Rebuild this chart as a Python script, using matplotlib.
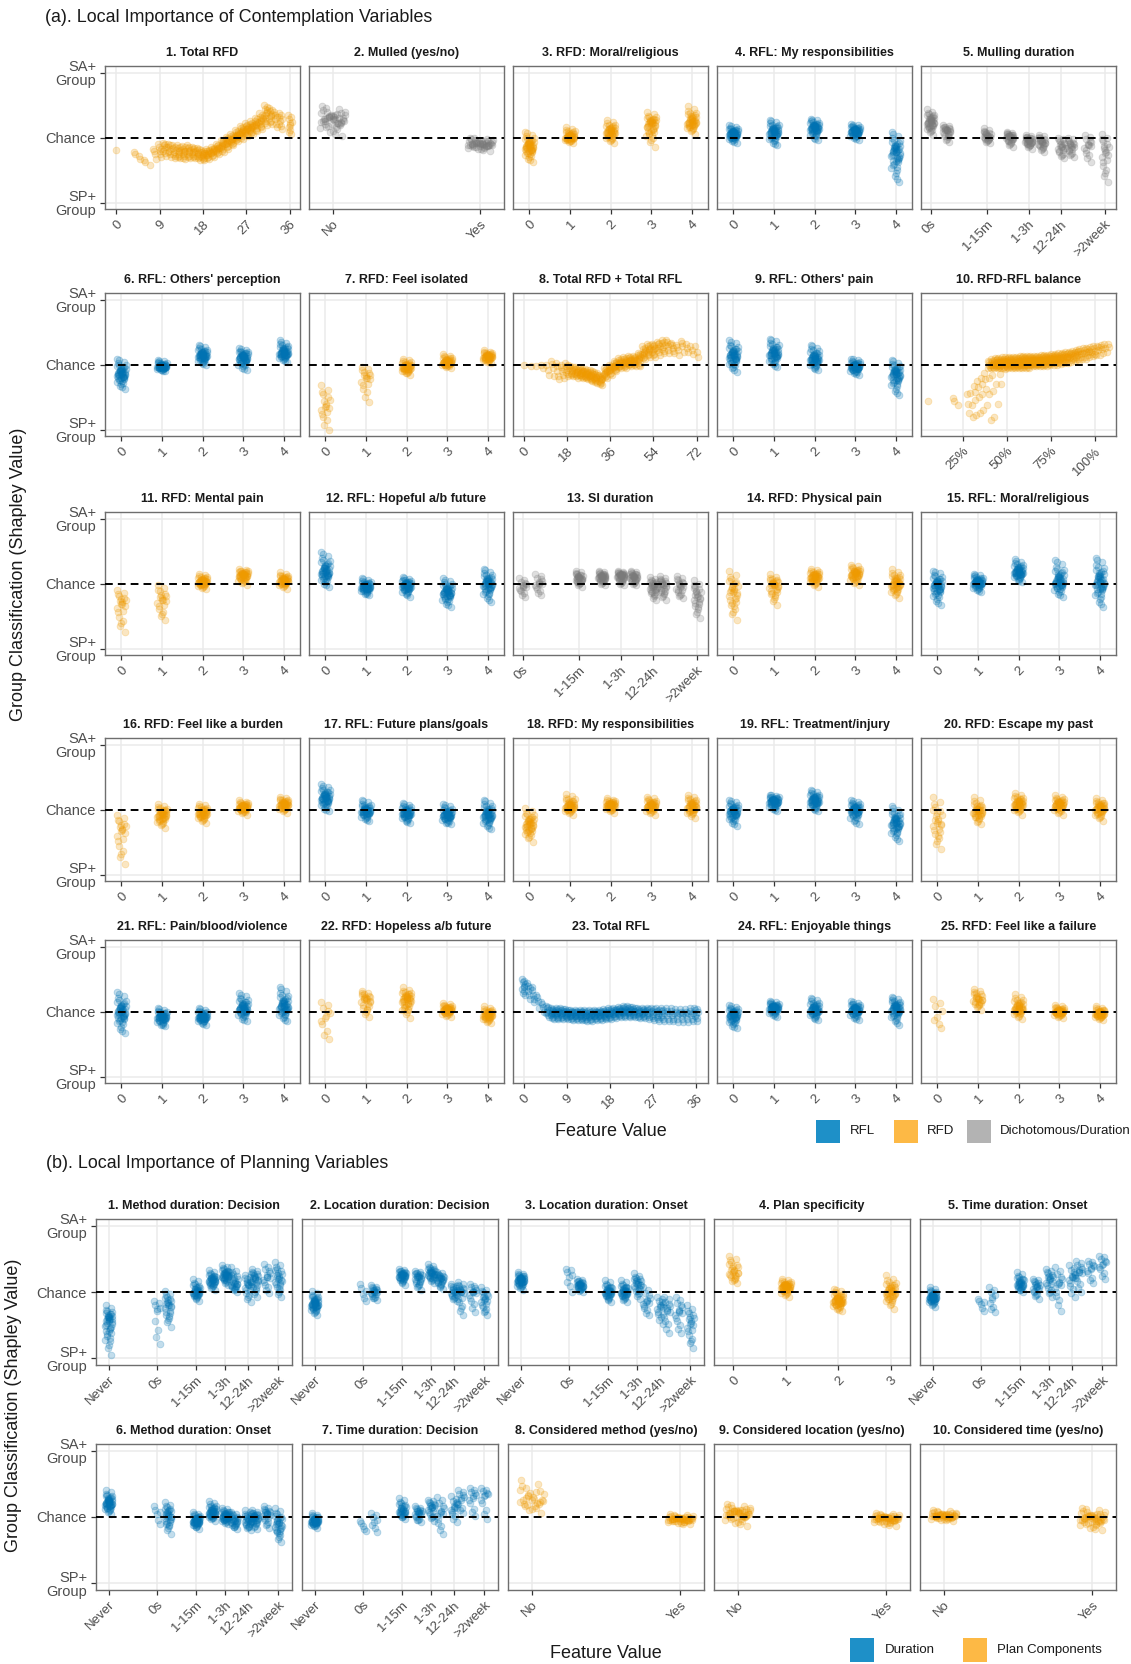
import matplotlib
matplotlib.use("Agg")
import matplotlib.pyplot as plt
from matplotlib.patches import Rectangle

plt.rcParams['font.family'] = ['Liberation Sans', 'DejaVu Sans']

# ------------------------------------------------------------------ data
# shared x encodings / tick labels
CAT5 = [0, 1, 2, 3, 4]
CAT5_LAB = ['0', '1', '2', '3', '4']
CAT4 = [0, 1, 2, 3]
CAT4_LAB = ['0', '1', '2', '3']
YN = [1, 2]
YN_LAB = ['No', 'Yes']
DUR_POS = [0, 2.84, 3.5, 5.16, 6.1, 6.88, 7.4, 8.21, 8.6, 9.3, 10.0]
DUR_LAB = ['Never', '0s', '1-15m', '1-3h', '12-24h', '>2week']
DUR_TICK_IDX = [0, 1, 3, 5, 7, 10]
TOT36_TICKS = [0, 9, 18, 27, 36]
TOT72_TICKS = [0, 18, 36, 54, 72]
PCT_TICKS = [25, 50, 75, 100]
PCT_LAB = ['25%', '50%', '75%', '100%']
Y_TICKS = [1, 0, -1]
Y_LAB = ['SA+\nGroup', 'Chance', 'SP+\nGroup']

A_TITLES = ["1. Total RFD", "2. Mulled (yes/no)", "3. RFD: Moral/religious",
            "4. RFL: My responsibilities", "5. Mulling duration",
            "6. RFL: Others' perception", "7. RFD: Feel isolated",
            "8. Total RFD + Total RFL", "9. RFL: Others' pain", "10. RFD-RFL balance",
            "11. RFD: Mental pain", "12. RFL: Hopeful a/b future", "13. SI duration",
            "14. RFD: Physical pain", "15. RFL: Moral/religious",
            "16. RFD: Feel like a burden", "17. RFL: Future plans/goals",
            "18. RFD: My responsibilities", "19. RFL: Treatment/injury",
            "20. RFD: Escape my past", "21. RFL: Pain/blood/violence",
            "22. RFD: Hopeless a/b future", "23. Total RFL",
            "24. RFL: Enjoyable things", "25. RFD: Feel like a failure"]
A_GROUPS = ['RFD', 'DD', 'RFD', 'RFL', 'DD', 'RFL', 'RFD', 'RFD', 'RFL', 'RFD',
            'RFD', 'RFL', 'DD', 'RFD', 'RFL', 'RFD', 'RFL', 'RFD', 'RFL', 'RFD',
            'RFL', 'RFD', 'RFL', 'RFL', 'RFD']
B_TITLES = ["1. Method duration: Decision", "2. Location duration: Decision",
            "3. Location duration: Onset", "4. Plan specificity",
            "5. Time duration: Onset", "6. Method duration: Onset",
            "7. Time duration: Decision", "8. Considered method (yes/no)",
            "9. Considered location (yes/no)", "10. Considered time (yes/no)"]
B_GROUPS = ['DUR', 'DUR', 'DUR', 'PLAN', 'DUR', 'DUR', 'DUR', 'PLAN', 'PLAN', 'PLAN']

# --- continuous panels: x, centre, half spread, number of points
A01_X = [0, 4, 5, 6, 7, 8, 9, 10, 11, 12, 13, 14, 15, 16, 17, 18, 19, 20, 21, 22,
         23, 24, 25, 26, 27, 28, 29, 30, 31, 32, 33, 34, 36]
A01_MID = [-0.19, -0.26, -0.33, -0.38, -0.43, -0.25, -0.20, -0.18, -0.20, -0.22,
           -0.22, -0.23, -0.22, -0.23, -0.25, -0.27, -0.25, -0.22, -0.18, -0.13,
           -0.08, -0.03, 0.03, 0.08, 0.12, 0.15, 0.20, 0.25, 0.35, 0.33, 0.28, 0.25, 0.20]
A01_SPR = [0.01, 0.04, 0.04, 0.04, 0.02, 0.08, 0.10, 0.10, 0.10, 0.10, 0.10, 0.10,
           0.10, 0.09, 0.09, 0.08, 0.08, 0.08, 0.08, 0.09, 0.09, 0.09, 0.09, 0.10,
           0.10, 0.10, 0.10, 0.12, 0.15, 0.12, 0.12, 0.12, 0.15]
A01_N = [1, 2, 2, 2, 1, 4, 6, 8, 8, 8, 10, 10, 10, 10, 10, 12, 12, 12, 12, 12,
         12, 14, 14, 14, 14, 14, 12, 12, 12, 10, 6, 8, 10]

A08_X = [0, 3, 5, 8, 10, 12, 14, 16, 18, 20, 22, 24, 26, 28, 30, 32, 34, 36, 38, 40,
         42, 44, 46, 48, 50, 52, 54, 56, 58, 60, 62, 64, 66, 68, 70, 72]
A08_MID = [0.00, -0.02, -0.03, -0.05, -0.08, -0.06, -0.10, -0.10, -0.08, -0.10,
           -0.12, -0.13, -0.15, -0.17, -0.20, -0.24, -0.13, -0.08, -0.02, 0.02,
           0.03, 0.05, 0.05, 0.08, 0.18, 0.22, 0.22, 0.25, 0.27, 0.28,
           0.25, 0.22, 0.28, 0.25, 0.22, 0.20]
A08_SPR = [0.01, 0.02, 0.02, 0.05, 0.08, 0.12, 0.12, 0.10, 0.10, 0.08,
           0.08, 0.08, 0.08, 0.08, 0.08, 0.08, 0.08, 0.08, 0.08, 0.08,
           0.08, 0.08, 0.08, 0.10, 0.10, 0.10, 0.10, 0.10, 0.10, 0.10,
           0.08, 0.08, 0.08, 0.06, 0.06, 0.08]
A08_N = [1, 1, 1, 2, 3, 4, 5, 6, 8, 10, 12, 14, 14, 14, 14, 12, 12, 12, 14, 14,
         14, 14, 12, 12, 12, 10, 10, 8, 8, 6, 5, 4, 4, 3, 3, 3]

A10_X = [5, 20, 22, 28, 30, 32, 34, 36, 38, 40, 42, 44, 46, 40, 42, 44, 46, 48, 50, 52,
         54, 56, 58, 60, 62, 64, 66, 68, 70, 72, 74, 76, 78, 80, 82, 84, 86, 88, 90, 92,
         94, 96, 98, 100, 102, 104, 106, 108]
A10_MID = [-0.56, -0.56, -0.62, -0.60, -0.62, -0.55, -0.50, -0.45, -0.38, -0.45,
           -0.40, -0.30, -0.15, 0.00, 0.01, 0.02, 0.02, 0.02, 0.03, 0.03,
           0.03, 0.03, 0.04, 0.04, 0.04, 0.05, 0.05, 0.05, 0.06, 0.06,
           0.07, 0.08, 0.08, 0.09, 0.10, 0.11, 0.12, 0.13, 0.14, 0.16,
           0.17, 0.19, 0.20, 0.21, 0.22, 0.24, 0.25, 0.27]
A10_SPR = [0.02, 0.05, 0.02, 0.15, 0.18, 0.22, 0.25, 0.25, 0.25, 0.40,
           0.40, 0.30, 0.15, 0.06, 0.07, 0.08, 0.08, 0.09, 0.09, 0.09,
           0.09, 0.09, 0.09, 0.09, 0.09, 0.08, 0.08, 0.08, 0.08, 0.08,
           0.08, 0.08, 0.08, 0.08, 0.08, 0.08, 0.08, 0.08, 0.08, 0.08,
           0.08, 0.07, 0.07, 0.07, 0.07, 0.06, 0.06, 0.05]
A10_N = [1, 2, 1, 3, 3, 4, 4, 4, 4, 4,
         4, 3, 3, 6, 8, 10, 12, 12, 14, 14,
         14, 14, 14, 14, 14, 14, 14, 14, 14, 12,
         12, 12, 12, 10, 10, 10, 8, 8, 8, 6,
         6, 6, 5, 5, 4, 4, 3, 2]

A23_X = [0, 1, 2, 3, 4, 5, 6, 7, 8, 9, 10, 11, 12, 13, 14, 15, 16, 17, 18, 19,
         20, 21, 22, 23, 24, 25, 26, 27, 28, 29, 30, 31, 32, 33, 34, 35, 36]
A23_MID = [0.38, 0.32, 0.26, 0.16, 0.07, 0.00, -0.03, -0.03, -0.03, -0.04,
           -0.05, -0.05, -0.05, -0.06, -0.06, -0.05, -0.05, -0.04, -0.03, -0.02,
           -0.01, 0.00, 0.00, -0.01, -0.02, -0.02, -0.03, -0.04, -0.05, -0.05,
           -0.05, -0.05, -0.06, -0.06, -0.06, -0.05, -0.04]
A23_SPR = [0.12, 0.12, 0.12, 0.10, 0.08, 0.08, 0.08, 0.08, 0.08, 0.08,
           0.08, 0.08, 0.08, 0.08, 0.08, 0.08, 0.08, 0.08, 0.08, 0.08,
           0.08, 0.08, 0.08, 0.08, 0.08, 0.08, 0.09, 0.09, 0.10, 0.10,
           0.10, 0.10, 0.10, 0.10, 0.10, 0.10, 0.10]
A23_N = [10, 6, 5, 4, 4, 8, 12, 12, 12, 12,
         12, 12, 12, 12, 12, 12, 12, 12, 12, 12,
         12, 12, 12, 10, 10, 10, 8, 8, 8, 8,
         6, 6, 6, 6, 6, 6, 8]

# --- categorical panels: centre, lowest, highest, number of points per category
A02_MID = [0.28, -0.10]; A02_LO = [0.03, -0.20]; A02_HI = [0.48, 0.00]; A02_N = [48, 48]
A03_MID = [-0.14, 0.01, 0.09, 0.21, 0.24]; A03_LO = [-0.37, -0.09, -0.09, -0.14, 0.06]
A03_HI = [0.09, 0.16, 0.27, 0.39, 0.48]; A03_N = [48, 40, 40, 40, 40]
A04_MID = [0.06, 0.09, 0.15, 0.10, -0.22]; A04_LO = [-0.09, -0.12, -0.04, -0.04, -0.68]
A04_HI = [0.19, 0.27, 0.29, 0.21, 0.09]; A04_N = [48, 48, 48, 48, 48]
A05_MID = [0.24, 0.11, 0.02, 0.01, -0.05, -0.07, -0.15, -0.14, -0.12, -0.24]
A05_LO = [0.04, -0.07, -0.09, -0.14, -0.17, -0.22, -0.32, -0.30, -0.37, -0.68]
A05_HI = [0.44, 0.19, 0.14, 0.09, 0.04, 0.04, 0.00, 0.00, 0.04, 0.06]
A05_N = [40, 25, 25, 30, 30, 25, 20, 20, 15, 20]
A06_MID = [-0.14, -0.03, 0.14, 0.11, 0.18]; A06_LO = [-0.37, -0.10, -0.01, -0.09, 0.04]
A06_HI = [0.09, 0.07, 0.30, 0.26, 0.37]; A06_N = [48, 48, 48, 48, 48]
A07_MID = [-0.65, -0.21, -0.04, 0.04, 0.12]; A07_LO = [-1.00, -0.57, -0.16, -0.06, 0.02]
A07_HI = [-0.32, -0.04, 0.09, 0.16, 0.22]; A07_N = [18, 18, 40, 40, 40]
A09_MID = [0.14, 0.17, 0.09, -0.03, -0.14]; A09_LO = [-0.11, -0.04, -0.09, -0.16, -0.47]
A09_HI = [0.37, 0.40, 0.30, 0.09, 0.07]; A09_N = [48, 48, 48, 48, 48]
A11_MID = [-0.32, -0.26, 0.03, 0.13, 0.05]; A11_LO = [-0.74, -0.56, -0.09, -0.03, -0.08]
A11_HI = [-0.10, -0.03, 0.15, 0.23, 0.17]; A11_N = [20, 20, 40, 40, 40]
A12_MID = [0.18, -0.05, -0.03, -0.13, 0.00]; A12_LO = [-0.05, -0.18, -0.20, -0.36, -0.28]
A12_HI = [0.48, 0.08, 0.10, 0.08, 0.23]; A12_N = [48, 48, 48, 48, 48]
A13_MID = [-0.05, 0.00, 0.08, 0.10, 0.12, 0.10, -0.05, -0.03, -0.05, -0.20]
A13_LO = [-0.20, -0.18, -0.05, -0.03, -0.03, -0.03, -0.26, -0.26, -0.23, -0.53]
A13_HI = [0.08, 0.15, 0.20, 0.20, 0.20, 0.20, 0.10, 0.12, 0.12, 0.05]
A13_N = [15, 15, 30, 35, 35, 30, 30, 25, 20, 25]
A14_MID = [-0.13, -0.03, 0.10, 0.15, 0.00]; A14_LO = [-0.56, -0.33, -0.05, -0.03, -0.23]
A14_HI = [0.20, 0.14, 0.23, 0.29, 0.23]; A14_N = [30, 30, 40, 40, 40]
A15_MID = [-0.03, 0.02, 0.18, 0.03, 0.03]; A15_LO = [-0.33, -0.13, 0.03, -0.20, -0.36]
A15_HI = [0.20, 0.15, 0.37, 0.36, 0.40]; A15_N = [48, 48, 48, 48, 48]
A16_MID = [-0.33, -0.08, -0.05, 0.04, 0.08]; A16_LO = [-0.84, -0.28, -0.20, -0.08, -0.05]
A16_HI = [-0.08, 0.09, 0.09, 0.14, 0.20]; A16_N = [20, 40, 40, 40, 40]
A17_MID = [0.18, -0.02, -0.05, -0.08, -0.08]; A17_LO = [-0.03, -0.18, -0.20, -0.23, -0.30]
A17_HI = [0.39, 0.14, 0.10, 0.08, 0.15]; A17_N = [48, 48, 48, 48, 48]
A18_MID = [-0.23, 0.05, 0.07, 0.06, 0.05]; A18_LO = [-0.50, -0.08, -0.05, -0.08, -0.13]
A18_HI = [0.03, 0.24, 0.17, 0.20, 0.23]; A18_N = [40, 40, 40, 40, 40]
A19_MID = [-0.03, 0.13, 0.14, 0.00, -0.20]; A19_LO = [-0.25, -0.03, -0.03, -0.23, -0.48]
A19_HI = [0.15, 0.23, 0.30, 0.15, 0.05]; A19_N = [48, 48, 48, 48, 48]
A20_MID = [-0.20, -0.03, 0.09, 0.08, 0.03]; A20_LO = [-0.61, -0.23, -0.08, -0.08, -0.18]
A20_HI = [0.20, 0.19, 0.25, 0.22, 0.17]; A20_N = [25, 35, 40, 40, 40]
A21_MID = [0.00, -0.08, -0.08, 0.05, 0.08]; A21_LO = [-0.33, -0.23, -0.20, -0.15, -0.15]
A21_HI = [0.30, 0.05, 0.05, 0.28, 0.37]; A21_N = [48, 48, 48, 48, 48]
A22_MID = [-0.10, 0.18, 0.19, 0.03, -0.05]; A22_LO = [-0.43, -0.09, -0.10, -0.09, -0.18]
A22_HI = [0.15, 0.32, 0.37, 0.13, 0.08]; A22_N = [12, 25, 40, 40, 40]
A24_MID = [-0.05, 0.06, 0.03, 0.03, 0.05]; A24_LO = [-0.26, -0.08, -0.13, -0.13, -0.20]
A24_HI = [0.10, 0.16, 0.21, 0.16, 0.23]; A24_N = [48, 48, 48, 48, 48]
A25_MID = [-0.08, 0.19, 0.05, 0.00, -0.03]; A25_LO = [-0.26, 0.03, -0.11, -0.10, -0.13]
A25_HI = [0.19, 0.35, 0.27, 0.10, 0.08]; A25_N = [8, 25, 40, 40, 40]

B01_MID = [-0.43, -0.28, -0.20, 0.00, 0.18, 0.25, 0.13, 0.10, 0.20, 0.22, 0.20]
B01_LO = [-0.95, -0.78, -0.52, -0.13, 0.03, 0.10, 0.00, -0.15, -0.08, -0.02, -0.08]
B01_HI = [-0.20, -0.13, 0.02, 0.20, 0.33, 0.40, 0.37, 0.25, 0.35, 0.42, 0.45]
B01_N = [40, 10, 25, 35, 35, 35, 25, 20, 25, 15, 25]
B02_MID = [-0.18, -0.03, 0.00, 0.25, 0.22, 0.28, 0.20, 0.00, 0.00, 0.00, -0.12]
B02_LO = [-0.35, -0.13, -0.12, 0.10, 0.03, 0.13, 0.05, -0.13, -0.35, -0.30, -0.35]
B02_HI = [0.02, 0.12, 0.10, 0.35, 0.32, 0.42, 0.30, 0.12, 0.15, 0.12, 0.07]
B02_N = [45, 6, 20, 35, 25, 30, 25, 20, 20, 15, 20]
B03_MID = [0.18, 0.22, 0.10, 0.00, 0.00, 0.12, -0.15, -0.22, -0.28, -0.30, -0.48]
B03_LO = [0.03, 0.00, 0.00, -0.15, -0.15, -0.10, -0.35, -0.48, -0.62, -0.62, -0.85]
B03_HI = [0.30, 0.35, 0.20, 0.18, 0.18, 0.28, 0.07, -0.07, -0.07, -0.07, -0.20]
B03_N = [45, 8, 30, 35, 35, 25, 15, 15, 15, 15, 20]
B04_MID = [0.30, 0.08, -0.13, 0.00]; B04_LO = [0.13, -0.08, -0.28, -0.25]
B04_HI = [0.55, 0.20, 0.05, 0.25]; B04_N = [25, 45, 48, 40]
B05_MID = [-0.08, -0.18, -0.10, 0.12, 0.07, 0.18, 0.12, 0.22, 0.30, 0.35, 0.40]
B05_LO = [-0.22, -0.28, -0.30, 0.00, -0.10, -0.07, -0.28, -0.07, 0.00, 0.13, 0.20]
B05_HI = [0.07, -0.10, 0.07, 0.30, 0.20, 0.35, 0.37, 0.40, 0.47, 0.47, 0.55]
B05_N = [45, 6, 10, 30, 20, 20, 15, 15, 15, 12, 12]
B06_MID = [0.21, 0.04, 0.02, -0.06, 0.07, 0.01, -0.06, -0.06, -0.01, 0.04, -0.11]
B06_LO = [0.04, -0.10, -0.25, -0.18, -0.06, -0.11, -0.18, -0.20, -0.18, -0.16, -0.38]
B06_HI = [0.41, 0.16, 0.23, 0.08, 0.24, 0.14, 0.08, 0.10, 0.10, 0.16, 0.14]
B06_N = [45, 6, 30, 45, 40, 40, 25, 25, 30, 20, 30]
B07_MID = [-0.06, -0.13, -0.08, 0.09, 0.06, 0.14, 0.06, 0.14, 0.26, 0.29, 0.31]
B07_LO = [-0.16, -0.21, -0.23, -0.03, -0.08, -0.06, -0.26, -0.08, 0.06, 0.02, -0.03]
B07_HI = [0.06, -0.06, 0.06, 0.29, 0.16, 0.26, 0.30, 0.31, 0.41, 0.44, 0.44]
B07_N = [45, 5, 8, 30, 20, 20, 15, 15, 12, 12, 12]
B08_MID = [0.26, -0.03]; B08_LO = [0.06, -0.11]; B08_HI = [0.56, 0.04]; B08_N = [30, 48]
B09_MID = [0.06, -0.02]; B09_LO = [-0.13, -0.13]; B09_HI = [0.19, 0.06]; B09_N = [48, 48]
B10_MID = [0.02, -0.02]; B10_LO = [-0.06, -0.20]; B10_HI = [0.10, 0.14]; B10_N = [48, 48]

# fixed jitter pattern (fractions of the jitter width / of the spread)
TDX = [0.0, -0.8, 0.7, -0.4, 0.3, 0.9, -0.6, 0.5, -0.2, 0.1,
       -0.9, 0.6, -0.5, 0.2, 0.8, -0.3, 0.4, -0.7, 0.05, -0.15,
       0.55, -0.45, 0.85, -0.85, 0.25, -0.25, 0.65, -0.65, 0.35, -0.35,
       0.75, -0.75, 0.15, -0.05, 0.45, -0.55, 0.95, -0.95, 0.0, 0.3,
       -0.3, 0.6, -0.6, 0.1, -0.1, 0.5, -0.5, 0.2]
TDY = [0.0, 1.0, -1.0, 0.6, -0.6, 0.3, -0.3, 0.8, -0.8, 0.15,
       -0.15, 0.45, -0.45, 0.05, -0.05, 0.25, -0.25, 0.7, -0.7, 0.35,
       -0.35, 0.1, -0.1, 0.5, -0.5, 0.2, -0.2, 0.0, 0.4, -0.4,
       0.12, -0.12, 0.3, -0.3, 0.08, -0.08, 0.55, -0.55, 0.22, -0.22,
       0.18, -0.18, 0.02, -0.02, 0.28, -0.28, 0.9, -0.9]

# ------------------------------------------------------------------ style
COLORS = {'RFL': '#0072B2', 'RFD': '#EE9A00', 'DD': '#7A7A7A',
          'DUR': '#0072B2', 'PLAN': '#EE9A00'}
GRID = '#EBEBEB'
W, H = 1131, 1664


def spec_cat(title, grp, xs, mid, lo, hi, n, jw, xlim, ticks, labels):
    return dict(title=title, grp=grp, x=xs, mid=mid, lo=lo, hi=hi, n=n, jw=jw,
                xlim=xlim, ticks=ticks, labels=labels)


def c5(i, mid, lo, hi, n, titles, groups):
    return spec_cat(titles[i], groups[i], CAT5, mid, lo, hi, n, 0.12, (-0.4, 4.4), CAT5, CAT5_LAB)


def yn(i, mid, lo, hi, n, titles, groups):
    return spec_cat(titles[i], groups[i], YN, mid, lo, hi, n, 0.09, (0.84, 2.16), YN, YN_LAB)


def durA(i, mid, lo, hi, n):
    return spec_cat(A_TITLES[i], A_GROUPS[i], DUR_POS[1:], mid, lo, hi, n, 0.16, (2.45, 10.45),
                    [DUR_POS[k] for k in DUR_TICK_IDX[1:]], DUR_LAB[1:])


def durB(i, mid, lo, hi, n):
    return spec_cat(B_TITLES[i], B_GROUPS[i], DUR_POS, mid, lo, hi, n, 0.22, (-0.75, 10.8),
                    [DUR_POS[k] for k in DUR_TICK_IDX], DUR_LAB)


def cont(i, xs, mid, spr, n, jw, xlim, ticks, labels):
    lo = [m - s for m, s in zip(mid, spr)]
    hi = [m + s for m, s in zip(mid, spr)]
    return spec_cat(A_TITLES[i], A_GROUPS[i], xs, mid, lo, hi, n, jw, xlim, ticks, labels)


T5 = [str(t) for t in TOT36_TICKS]
PANELS_A = [
    cont(0, A01_X, A01_MID, A01_SPR, A01_N, 0.4, (-2.3, 38.1), TOT36_TICKS, T5),
    yn(1, A02_MID, A02_LO, A02_HI, A02_N, A_TITLES, A_GROUPS),
    c5(2, A03_MID, A03_LO, A03_HI, A03_N, A_TITLES, A_GROUPS),
    c5(3, A04_MID, A04_LO, A04_HI, A04_N, A_TITLES, A_GROUPS),
    durA(4, A05_MID, A05_LO, A05_HI, A05_N),
    c5(5, A06_MID, A06_LO, A06_HI, A06_N, A_TITLES, A_GROUPS),
    c5(6, A07_MID, A07_LO, A07_HI, A07_N, A_TITLES, A_GROUPS),
    cont(7, A08_X, A08_MID, A08_SPR, A08_N, 0.8, (-4.5, 76.7), TOT72_TICKS,
         [str(t) for t in TOT72_TICKS]),
    c5(8, A09_MID, A09_LO, A09_HI, A09_N, A_TITLES, A_GROUPS),
    cont(9, A10_X, A10_MID, A10_SPR, A10_N, 1.0, (1.2, 112.0), PCT_TICKS, PCT_LAB),
    c5(10, A11_MID, A11_LO, A11_HI, A11_N, A_TITLES, A_GROUPS),
    c5(11, A12_MID, A12_LO, A12_HI, A12_N, A_TITLES, A_GROUPS),
    durA(12, A13_MID, A13_LO, A13_HI, A13_N),
    c5(13, A14_MID, A14_LO, A14_HI, A14_N, A_TITLES, A_GROUPS),
    c5(14, A15_MID, A15_LO, A15_HI, A15_N, A_TITLES, A_GROUPS),
    c5(15, A16_MID, A16_LO, A16_HI, A16_N, A_TITLES, A_GROUPS),
    c5(16, A17_MID, A17_LO, A17_HI, A17_N, A_TITLES, A_GROUPS),
    c5(17, A18_MID, A18_LO, A18_HI, A18_N, A_TITLES, A_GROUPS),
    c5(18, A19_MID, A19_LO, A19_HI, A19_N, A_TITLES, A_GROUPS),
    c5(19, A20_MID, A20_LO, A20_HI, A20_N, A_TITLES, A_GROUPS),
    c5(20, A21_MID, A21_LO, A21_HI, A21_N, A_TITLES, A_GROUPS),
    c5(21, A22_MID, A22_LO, A22_HI, A22_N, A_TITLES, A_GROUPS),
    cont(22, A23_X, A23_MID, A23_SPR, A23_N, 0.4, (-2.2, 38.5), TOT36_TICKS, T5),
    c5(23, A24_MID, A24_LO, A24_HI, A24_N, A_TITLES, A_GROUPS),
    c5(24, A25_MID, A25_LO, A25_HI, A25_N, A_TITLES, A_GROUPS),
]
PANELS_B = [
    durB(0, B01_MID, B01_LO, B01_HI, B01_N),
    durB(1, B02_MID, B02_LO, B02_HI, B02_N),
    durB(2, B03_MID, B03_LO, B03_HI, B03_N),
    spec_cat(B_TITLES[3], B_GROUPS[3], CAT4, B04_MID, B04_LO, B04_HI, B04_N, 0.1,
             (-0.37, 3.37), CAT4, CAT4_LAB),
    durB(4, B05_MID, B05_LO, B05_HI, B05_N),
    durB(5, B06_MID, B06_LO, B06_HI, B06_N),
    durB(6, B07_MID, B07_LO, B07_HI, B07_N),
    yn(7, B08_MID, B08_LO, B08_HI, B08_N, B_TITLES, B_GROUPS),
    yn(8, B09_MID, B09_LO, B09_HI, B09_N, B_TITLES, B_GROUPS),
    yn(9, B10_MID, B10_LO, B10_HI, B10_N, B_TITLES, B_GROUPS),
]

# ------------------------------------------------------------------ figure
fig = plt.figure(figsize=(W / 100, H / 100), dpi=100)
ov = fig.add_axes([0, 0, 1, 1])
ov.set_xlim(0, W)
ov.set_ylim(H, 0)
ov.axis('off')


def ax_at(left, top, width, height):
    return fig.add_axes([left / W, 1 - (top + height) / H, width / W, height / H])


def cluster(xc, mid, lo, hi, n, jw):
    xs, ys = [], []
    for k in range(min(n, len(TDX))):
        dx, dy = TDX[k], TDY[k]
        xs.append(xc + dx * jw)
        ys.append(mid + dy * ((hi - mid) if dy >= 0 else (mid - lo)))
    return xs, ys


def draw_panel(ax, sp, first_col, height):
    ax.set_xlim(*sp['xlim'])
    ax.set_ylim(-1.1, 1.1)
    for t in sp['ticks']:
        ax.axvline(t, color=GRID, lw=1.1, zorder=0)
    for yv in (-1, 1):
        ax.axhline(yv, color=GRID, lw=1.1, zorder=0)
    col = COLORS[sp['grp']]
    X, Y = [], []
    for xc, m, lo, hi, n in zip(sp['x'], sp['mid'], sp['lo'], sp['hi'], sp['n']):
        xs, ys = cluster(xc, m, lo, hi, n, sp['jw'])
        X += xs
        Y += ys
    ax.scatter(X, Y, s=24, facecolor=col, edgecolor=col, linewidths=0.6,
               alpha=0.24, zorder=2)
    ax.axhline(0, color='black', lw=1.4, ls=(0, (4, 2.6)), zorder=5)
    ax.set_xticks(sp['ticks'])
    ax.set_xticklabels(sp['labels'])
    for lab in ax.get_xticklabels():
        lab.set_rotation(45)
        lab.set_ha('right')
        lab.set_va('top')
        lab.set_rotation_mode('anchor')
    ax.tick_params(axis='x', length=3.5, width=0.9, color='#333333',
                   labelsize=9.5, labelcolor='#4D4D4D', pad=3)
    ax.set_yticks(Y_TICKS)
    if first_col:
        ax.set_yticklabels(Y_LAB, fontsize=10.5, color='#4D4D4D', linespacing=1.0)
        ax.tick_params(axis='y', length=3.5, width=0.9, color='#333333', pad=3)
    else:
        ax.tick_params(axis='y', left=False, labelleft=False)
    for s in ax.spines.values():
        s.set_color('#6E6E6E')
        s.set_linewidth(1.0)
    ax.text(0.5, 1 + 13.0 / height, sp['title'], transform=ax.transAxes, ha='center',
            va='center', fontsize=9, fontweight='bold', color='#1A1A1A')


A_LEFT = [105, 309, 513, 717, 921]
A_TOP = [66, 293, 512, 738, 940]
A_W, A_H = 195, 143
for i, sp in enumerate(PANELS_A):
    r, c = divmod(i, 5)
    ax = ax_at(A_LEFT[c], A_TOP[r], A_W, A_H)
    draw_panel(ax, sp, c == 0, A_H)

B_LEFT = [96, 302, 508, 714, 920]
B_TOP = [1219, 1444]
B_W, B_H = 196, 146
for i, sp in enumerate(PANELS_B):
    r, c = divmod(i, 5)
    ax = ax_at(B_LEFT[c], B_TOP[r], B_W, B_H)
    draw_panel(ax, sp, c == 0, B_H)

# ------------------------------------------------------------------ annotations
ov.text(45, 18, "(a). Local Importance of Contemplation Variables", fontsize=12.9,
        ha='left', va='center', color='#1A1A1A')
ov.text(46, 1163, "(b). Local Importance of Planning Variables", fontsize=12.9,
        ha='left', va='center', color='#1A1A1A')
ov.text(19, 574, "Group Classification (Shapley Value)", fontsize=13, rotation=90,
        ha='center', va='center', color='#1A1A1A')
ov.text(14, 1405, "Group Classification (Shapley Value)", fontsize=13, rotation=90,
        ha='center', va='center', color='#1A1A1A')
ov.text(611, 1131, "Feature Value", fontsize=13, ha='center', va='center', color='#1A1A1A')
ov.text(606, 1653, "Feature Value", fontsize=13, ha='center', va='center', color='#1A1A1A')

LEG_A = [('RFL', '#1E90C8', 816, 850), ('RFD', '#FDB945', 894, 927),
         ('Dichotomous/Duration', '#B3B3B3', 967, 1000)]
for lab, colr, sx, tx in LEG_A:
    ov.add_patch(Rectangle((sx, 1120), 24, 23, facecolor=colr, edgecolor='none'))
    ov.text(tx, 1131.5, lab, fontsize=9.5, ha='left', va='center', color='#1A1A1A')
LEG_B = [('Duration', '#1E90C8', 850, 885), ('Plan Components', '#FDB945', 963, 997)]
for lab, colr, sx, tx in LEG_B:
    ov.add_patch(Rectangle((sx, 1638), 24, 24, facecolor=colr, edgecolor='none'))
    ov.text(tx, 1650, lab, fontsize=9.5, ha='left', va='center', color='#1A1A1A')

fig.savefig('out.png', dpi=100)
